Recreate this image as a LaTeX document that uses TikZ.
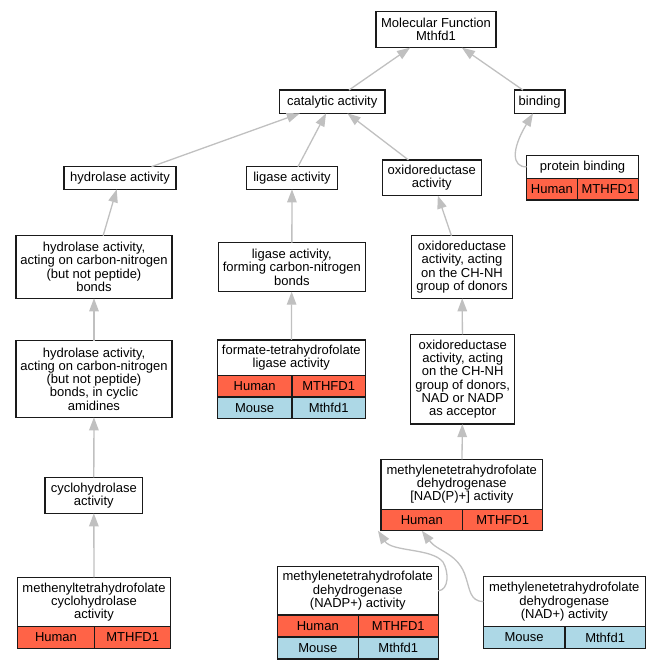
\documentclass[tikz,border=0pt]{standalone}
\usepackage{fontspec}
\setmainfont{Liberation Sans}
\usetikzlibrary{arrows.meta, positioning}
\definecolor{human}{HTML}{FF6347}
\definecolor{mouse}{HTML}{ADD8E6}
\definecolor{edgegray}{HTML}{C0C0C0}
\definecolor{boxline}{HTML}{1A1A1A}
\tikzset{
  term/.style={draw=boxline, line width=1.3pt, fill=white, align=center, inner sep=1pt,
    outer sep=0pt, font=\fontsize{13}{13.3}\selectfont},
  cell/.style={term, minimum height=21.6pt},
  isa/.style={draw=edgegray, line width=1.3pt, -{Triangle[length=13pt,width=9.5pt]}}
}
\begin{document}
\begin{tikzpicture}[x=1pt, y=-1pt, node distance=0pt and 0pt]
\useasboundingbox (0,0) rectangle (661,669);
% top of the tree
\node[term, minimum width=120pt, minimum height=36pt] (mf) at (436,29.7) {Molecular Function\\Mthfd1};
\node[term, minimum width=105.7pt, minimum height=23.3pt] (cat) at (332.2,101.7) {catalytic activity};
\node[term, minimum width=50.7pt, minimum height=23.3pt] (bind) at (539.7,101.7) {binding};
\node[term, minimum width=112pt, minimum height=22.7pt] (hyd) at (120,178) {hydrolase activity};
\node[term, minimum width=90.7pt, minimum height=22.7pt] (lig) at (292,178) {ligase activity};
\node[term, minimum width=99pt, minimum height=35.7pt] (oxi) at (431.8,177.8) {oxidoreductase\\activity};
\node[term, minimum width=112.2pt, minimum height=22.8pt] (pb) at (582.6,166.9) {protein binding};
	\node[cell, fill=human, minimum width=50.7pt, below right=of pb.south west] (pbH) {Human};
	\node[cell, fill=human, minimum width=61.5pt, right=of pbH] (pbG) {MTHFD1};
% middle
\node[term, minimum width=156pt, minimum height=62.6pt] (hcn) at (94,267) {hydrolase activity,\\acting on carbon-nitrogen\\(but not peptide)\\bonds};
\node[term, minimum width=147pt, minimum height=49pt] (lcn) at (291.8,267.2) {ligase activity,\\forming carbon-nitrogen\\bonds};
\node[term, minimum width=100.6pt, minimum height=62.6pt] (chnh) at (462,267) {oxidoreductase\\activity, acting\\on the CH-NH\\group of donors};
\node[term, minimum width=156pt, minimum height=76.6pt] (hcy) at (94,379) {hydrolase activity,\\acting on carbon-nitrogen\\(but not peptide)\\bonds, in cyclic\\amidines};
\node[term, minimum width=148pt, minimum height=35.7pt] (fm) at (291.3,357.8) {formate-tetrahydrofolate\\ligase activity};
	\node[cell, fill=human, minimum width=74.7pt, minimum height=21.3pt, below right=of fm.south west] (fmH) {Human};
	\node[cell, fill=human, minimum width=73.3pt, minimum height=21.3pt, right=of fmH] (fmHg) {MTHFD1};
	\node[cell, fill=mouse, minimum width=74.7pt, minimum height=21.3pt, below=of fmH] (fmM) {Mouse};
	\node[cell, fill=mouse, minimum width=73.3pt, minimum height=21.3pt, right=of fmM] (fmMg) {Mthfd1};
\node[term, minimum width=104pt, minimum height=89.7pt] (nad) at (462.7,379.2) {oxidoreductase\\activity, acting\\on the CH-NH\\group of donors,\\NAD or NADP\\as acceptor};
% bottom
\node[term, minimum width=97.7pt, minimum height=36pt] (cyc) at (93.8,495.3) {cyclohydrolase\\activity};
\node[term, minimum width=161.7pt, minimum height=50pt] (nap) at (461.8,484.3) {methylenetetrahydrofolate\\dehydrogenase\\{[}NAD(P)+{]} activity};
	\node[cell, fill=human, minimum width=81.7pt, minimum height=21.4pt, below right=of nap.south west] (napH) {Human};
	\node[cell, fill=human, minimum width=80pt, minimum height=21.4pt, right=of napH] (napG) {MTHFD1};
\node[term, minimum width=153.4pt, minimum height=49.4pt] (meth) at (94,602) {methenyltetrahydrofolate\\cyclohydrolase\\activity};
	\node[cell, fill=human, minimum width=77.4pt, below right=of meth.south west] (methH) {Human};
	\node[cell, fill=human, minimum width=76pt, right=of methH] (methG) {MTHFD1};
\node[term, minimum width=161pt, minimum height=48.3pt] (ndp) at (357.8,590.8) {methylenetetrahydrofolate\\dehydrogenase\\(NADP+) activity};
	\node[cell, fill=human, minimum width=81pt, minimum height=22pt, below right=of ndp.south west] (ndpH) {Human};
	\node[cell, fill=human, minimum width=80pt, minimum height=22pt, right=of ndpH] (ndpHg) {MTHFD1};
	\node[cell, fill=mouse, minimum width=81pt, minimum height=22pt, below=of ndpH] (ndpM) {Mouse};
	\node[cell, fill=mouse, minimum width=80pt, minimum height=22pt, right=of ndpM] (ndpMg) {Mthfd1};
\node[term, minimum width=162pt, minimum height=50pt] (nd) at (564.3,601.7) {methylenetetrahydrofolate\\dehydrogenase\\(NAD+) activity};
	\node[cell, fill=mouse, minimum width=81.7pt, below right=of nd.south west] (ndM) {Mouse};
	\node[cell, fill=mouse, minimum width=80.3pt, right=of ndM] (ndMg) {Mthfd1};
% is_a edges
\foreach \from/\to in {cat/mf, bind/mf, hyd/cat, lig/cat, oxi/cat, hcn/hyd, lcn/lig, chnh/oxi,
		hcy/hcn, fm/lcn, nad/chnh, cyc/hcy, meth/cyc, nap/nad}
	\draw[isa] (\from) -- (\to);
\draw[isa] (pb.west) .. controls (512,167) and (511,150) .. (bind.-120);
\draw[isa] (ndp.east) .. controls (449,590) and (449,572) .. (443,562)
	.. controls (432,548) and (392,552) .. ([xshift=-3pt]napH.south west);
\draw[isa] (nd.west) .. controls (470,601) and (470,590) .. (466,578)
	.. controls (459,553) and (438,552) .. (napH.south);
\end{tikzpicture}
\end{document}
